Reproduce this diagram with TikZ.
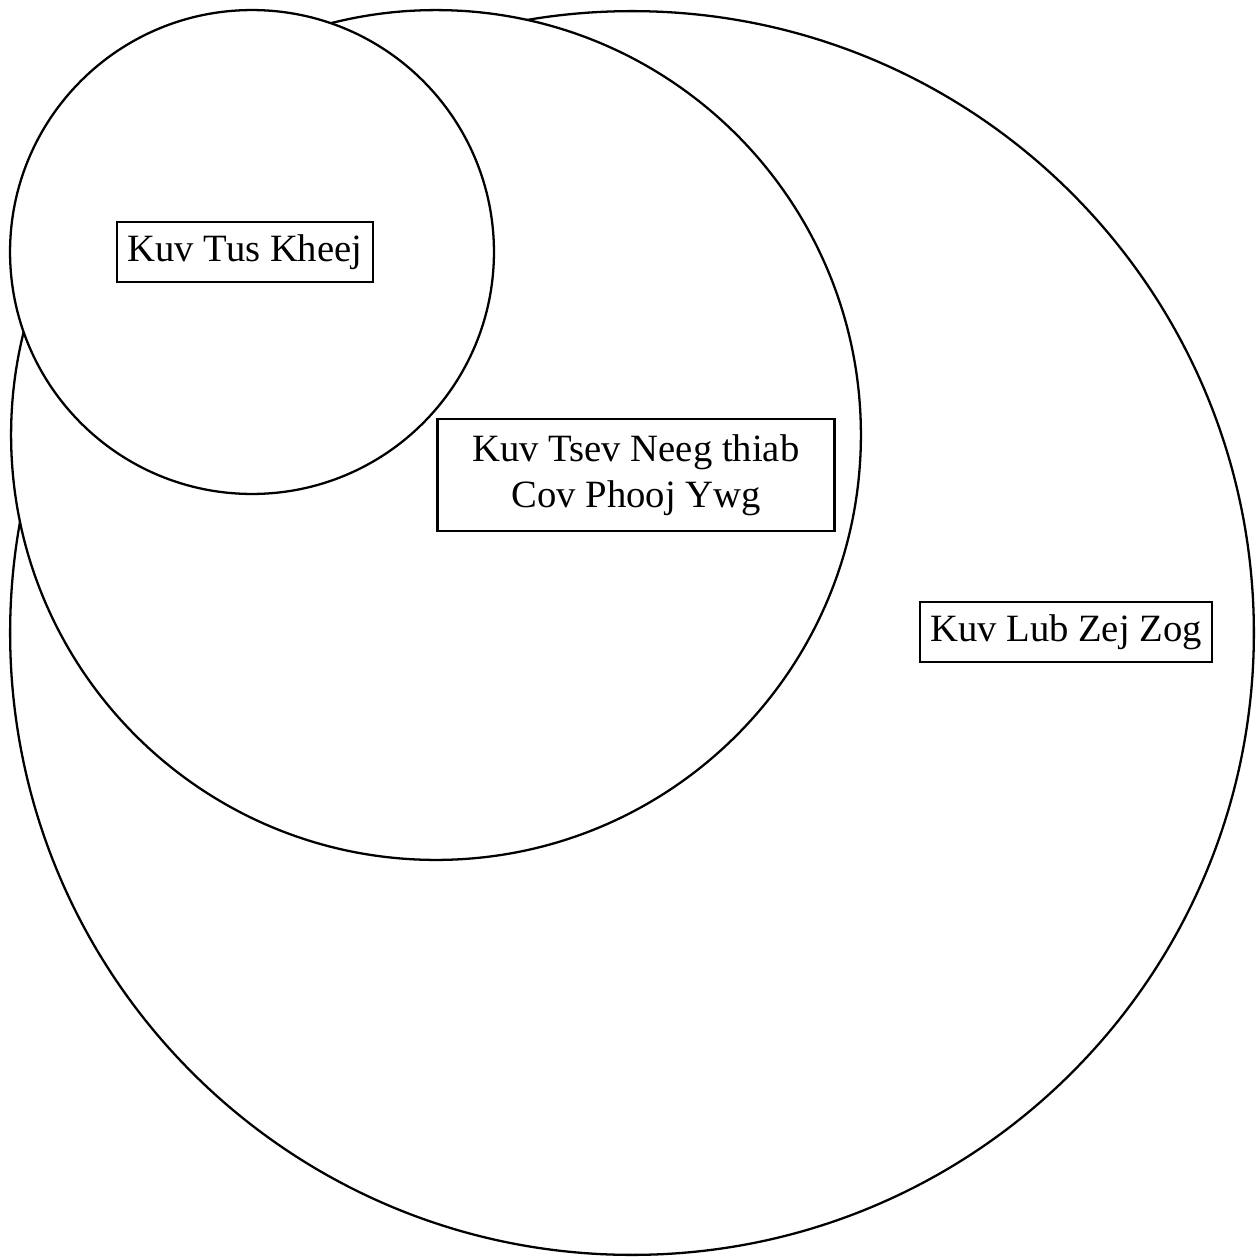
\documentclass[tikz,border=0pt]{standalone}
\usepackage{fontspec}
\setmainfont{Liberation Serif}
\usetikzlibrary{positioning}
\tikzset{ring/.style={draw, fill=white, circle, line width=1.3pt, inner sep=0pt}, lbl/.style={draw, fill=white, line width=1.3pt, font=\fontsize{22}{26}\selectfont, align=center, inner xsep=6pt, inner ysep=7pt}}

\begin{document}
\begin{tikzpicture}[x=0.02cm,y=-0.02cm]
\useasboundingbox (0,0) rectangle (1258,1258);
\node[ring, minimum size=24.88cm] (zejzog) at (632,633) {};
\node[ring, minimum size=17cm] (tsevneeg) at (436,435) {};
\node[ring, minimum size=9.68cm] (tuskheej) at (252,252) {};
\node[lbl] (ltus) at (245,252) {Kuv Tus Kheej};
\node[lbl, minimum width=7.94cm, minimum height=2.24cm] (ltsev) at (636,475) {Kuv Tsev Neeg thiab\\Cov Phooj Ywg};
\node[lbl] (lzej) at (1066,632) {Kuv Lub Zej Zog};
\end{tikzpicture}
\end{document}
